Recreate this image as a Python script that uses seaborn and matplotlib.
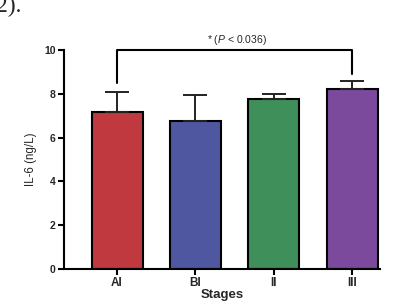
import numpy as np
import seaborn as sns
import matplotlib.pyplot as plt

stages = ["AI", "BI", "II", "III"]
means = [7.18, 6.77, 7.75, 8.22]
err_up = [0.92, 1.18, 0.25, 0.38]
colors = ["#C0393F", "#4F57A0", "#3E8F5A", "#7B4A9C"]

sns.set_style("ticks")
plt.rcParams['font.family'] = ['Liberation Sans', 'DejaVu Sans']
plt.rcParams['mathtext.fontset'] = 'custom'
plt.rcParams['mathtext.it'] = 'Liberation Sans:italic'
plt.rcParams['mathtext.rm'] = 'Liberation Sans'

fig = plt.figure(figsize=(4.08, 3.06), dpi=100)
ax = fig.add_axes([0.157, 0.121, 0.774, 0.716])

sns.barplot(x=stages, y=means, hue=stages, palette=colors, legend=False,
            edgecolor="black", linewidth=1.5, width=0.65, saturation=1, ax=ax)
ax.errorbar(range(len(stages)), means, yerr=[np.zeros(4), err_up], fmt="none",
            ecolor="#222222", elinewidth=1.4, capsize=8.5, capthick=1.4, zorder=1)

ax.set_ylim(0, 10)
ax.set_xlim(-0.675, 3.35)
ax.set_yticks([0, 2, 4, 6, 8, 10])
for s in ["top", "right"]:
    ax.spines[s].set_visible(False)
for s in ["left", "bottom"]:
    ax.spines[s].set_linewidth(1.5)
    ax.spines[s].set_color("black")
ax.tick_params(width=1.5, length=4, color="black", pad=2)
for lab in ax.get_yticklabels():
    lab.set_fontsize(7.5)
    lab.set_fontweight("bold")
for lab in ax.get_xticklabels():
    lab.set_fontsize(8.5)
    lab.set_fontweight("bold")

ax.set_xlabel("Stages", fontsize=9.5, fontweight="bold", labelpad=0)
ax.set_ylabel("IL-6 (ng/L)", fontsize=8.3, labelpad=5)

# significance bracket between AI and III
ax.plot([0, 0, 3, 3], [8.5, 10, 10, 8.9], color="black", lw=1.5, clip_on=False)
ax.text(1.53, 10.12, "* ($\\it{P}$ < 0.036)", fontsize=7.5, ha="center", va="bottom")

fig.text(-0.01, 1.012, "2).", fontsize=17, family="Liberation Serif", ha="left", va="top")

plt.savefig("out.png", dpi=100)
